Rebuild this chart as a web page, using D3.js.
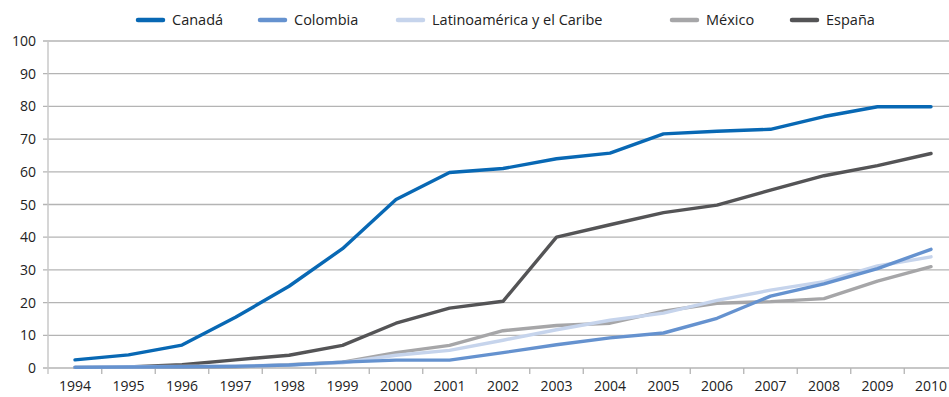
<!DOCTYPE html>
<html><head><meta charset="utf-8">
<script src="https://cdn.jsdelivr.net/npm/d3@7"></script>
<style>body{margin:0;background:#fff}svg{display:block}text{font-family:"Open Sans",sans-serif}</style>
</head><body><svg id="c" width="949" height="397"></svg>
<script>
const years = ["1994","1995","1996","1997","1998","1999","2000","2001","2002","2003","2004","2005","2006","2007","2008","2009","2010"];
const canada   = [2.5,4,7,15.5,25,36.5,51.5,59.8,61,64,65.7,71.6,72.4,73,76.9,79.9,79.9];
const colombia = [0.2,0.3,0.4,0.5,0.9,1.8,2.4,2.4,4.7,7.1,9.2,10.7,15.2,22,25.7,30.4,36.3];
const latam    = [0.3,0.4,0.5,0.6,0.9,1.6,3.9,5.4,8.5,11.7,14.6,16.8,20.7,23.8,26.4,31.2,34];
const mexico   = [0.2,0.2,0.2,0.3,1,1.8,4.7,6.9,11.4,13,13.7,17.4,19.8,20.3,21.2,26.6,31];
const espana   = [0.2,0.3,1,2.5,3.9,6.9,13.7,18.3,20.4,40,43.8,47.5,49.8,54.4,58.8,61.9,65.6];
const yTicks = [0,10,20,30,40,50,60,70,80,90,100];
const seriesNames = ["Canadá","Colombia","Latinoamérica y el Caribe","México","España"];
const seriesColors = ["#0868b4","#6592cf","#c6d4ec","#a6a6a8","#545456"];
const seriesData = [canada, colombia, latam, mexico, espana];

const svg = d3.select("#c");
const mLeft = 48, mRight = 949, mTop = 41, mBottom = 368;
const band = 53.5;
const x = d3.scalePoint().domain(years).range([75, 75 + band*16]);
const y = d3.scaleLinear().domain([0,100]).range([mBottom, mTop]);

svg.append("g").selectAll("line").data(yTicks).join("line")
  .attr("x1", mLeft-5).attr("x2", mRight)
  .attr("y1", d=>y(d)).attr("y2", d=>y(d))
  .attr("stroke", "#b4b4b4").attr("stroke-width", 1.3);
svg.append("line").attr("x1", mLeft).attr("x2", mLeft).attr("y1", mTop).attr("y2", mBottom+6)
  .attr("stroke","#c8c8c8").attr("stroke-width",1.5);
svg.append("g").selectAll("text").data(yTicks).join("text")
  .attr("x", 36).attr("y", d=>y(d)+5).attr("text-anchor","end")
  .attr("font-size",14).attr("fill","#222").text(d=>d);
const bounds = years.slice(1).map(yv => x(yv) - band/2).concat([x(years[16]) + band/2]);
svg.append("g").selectAll("line").data(bounds).join("line")
  .attr("x1", d=>d).attr("x2", d=>d).attr("y1", mBottom).attr("y2", mBottom+6)
  .attr("stroke","#b4b4b4").attr("stroke-width",1.3);
svg.append("g").selectAll("text").data(years).join("text")
  .attr("x", d=>x(d)).attr("y", 391).attr("text-anchor","middle")
  .attr("font-size",14).attr("fill","#222").text(d=>d);

const line = d3.line().x((d,i)=>x(years[i])).y(d=>y(d));
[4,3,2,1,0].forEach(k=>{
  svg.append("path").datum(seriesData[k]).attr("d", line)
    .attr("fill","none").attr("stroke", seriesColors[k]).attr("stroke-width",3.4)
    .attr("stroke-linejoin","round").attr("stroke-linecap","round");
});

const legX = [138,260,398,672,792];
seriesNames.forEach((n,i)=>{
  const g = svg.append("g");
  g.append("line").attr("x1",legX[i]).attr("x2",legX[i]+25).attr("y1",20).attr("y2",20)
    .attr("stroke",seriesColors[i]).attr("stroke-width",4.5).attr("stroke-linecap","round");
  g.append("text").attr("x",legX[i]+34).attr("y",25).attr("font-size",14.5).attr("fill","#222").text(n);
});
</script></body></html>
